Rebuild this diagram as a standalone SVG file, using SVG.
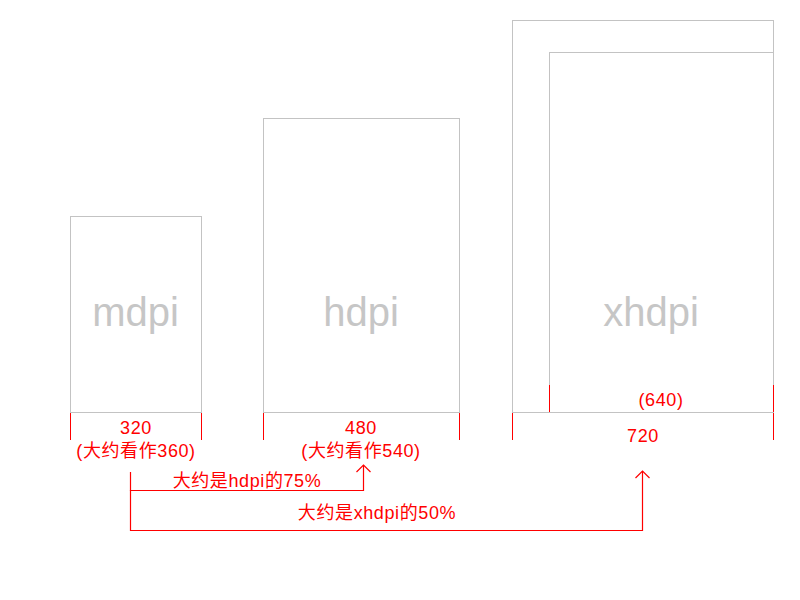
<svg xmlns="http://www.w3.org/2000/svg" width="800" height="600" viewBox="0 0 800 600">
<defs>
<style>
.box{fill:#fff;stroke:#c3c3c3;stroke-width:1}
.lbl{font-family:"Liberation Sans","Noto Sans CJK SC",sans-serif;font-size:40px;fill:#c6c6c6;text-anchor:middle}
.tick{stroke:#f00;stroke-width:1;fill:none}
.t{font-family:"Liberation Sans","Noto Sans CJK SC",sans-serif;font-size:18px;letter-spacing:0.6px;fill:#f00;text-anchor:middle}
.conn{stroke:#f00;stroke-width:1.2;fill:none}
</style>
<marker id="arr" markerWidth="16" markerHeight="16" refX="8" refY="8" orient="auto" markerUnits="userSpaceOnUse">
<path d="M1,1 L8,8 L1,15" fill="none" stroke="#f00" stroke-width="1.2"/>
</marker>
</defs>
<rect width="800" height="600" fill="#fff"/>
<g id="mdpi">
<rect class="box" x="70.5" y="216.5" width="131" height="196"/>
<text class="lbl" x="135.5" y="326">mdpi</text>
<line class="tick" x1="70.5" y1="413" x2="70.5" y2="440"/>
<line class="tick" x1="201.5" y1="413" x2="201.5" y2="440"/>
<text class="t" x="136" y="434">320</text>
<text class="t" x="136" y="457">(大约看作360)</text>
</g>
<g id="hdpi">
<rect class="box" x="263.5" y="118.5" width="196" height="294"/>
<text class="lbl" x="361" y="326">hdpi</text>
<line class="tick" x1="263.5" y1="413" x2="263.5" y2="440"/>
<line class="tick" x1="459.5" y1="413" x2="459.5" y2="440"/>
<text class="t" x="361" y="434">480</text>
<text class="t" x="361" y="457">(大约看作540)</text>
</g>
<g id="xhdpi">
<rect class="box" x="512.5" y="20.5" width="261" height="392"/>
<rect class="box" x="549.5" y="52.5" width="224" height="360"/>
<text class="lbl" x="651" y="326">xhdpi</text>
<line class="tick" x1="549.5" y1="385" x2="549.5" y2="412"/>
<line class="tick" x1="773.5" y1="385" x2="773.5" y2="412"/>
<text class="t" x="661" y="406">(640)</text>
<line class="tick" x1="512.5" y1="413" x2="512.5" y2="440"/>
<line class="tick" x1="773.5" y1="413" x2="773.5" y2="440"/>
<text class="t" x="643" y="442">720</text>
</g>
<g id="connectors">
<path class="conn" d="M130.5,472 V490.5 H363.5 V465" marker-end="url(#arr)"/>
<path class="conn" d="M130.5,490 V530.5 H642.5 V471" marker-end="url(#arr)"/>
<text class="t" x="247" y="487">大约是hdpi的75%</text>
<text class="t" x="377" y="519">大约是xhdpi的50%</text>
</g>
</svg>
